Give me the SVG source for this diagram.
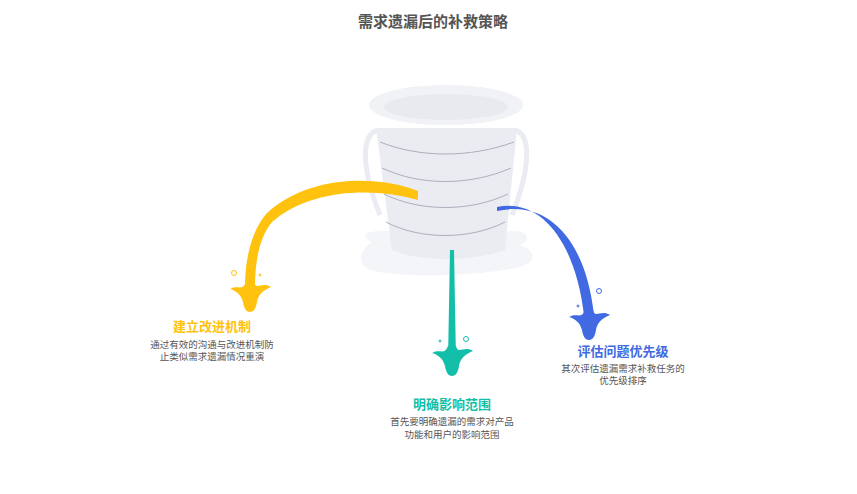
<svg xmlns="http://www.w3.org/2000/svg" width="857" height="494" viewBox="0 0 857 494">
<style>
.t{font-family:"Liberation Sans","Noto Sans CJK SC",sans-serif;text-anchor:middle}
.h{font-size:13px;font-weight:bold}
.d{font-size:9.5px;fill:#555}
.band{fill:none;stroke:#aab0bc;stroke-width:1}
.bub{fill:none;stroke-width:1}
</style>
<defs>
<path id="spl" d="M-20,-4 C-12,-9 -8,-1 -4,-11 L4,-11 C6,-2 12,-12 21,-6 C13,-3 8,2 7,9 C6,15 4,19 0,19 C-4,19 -6,15 -7,9 C-9,2 -13,-2 -20,-4Z"/>
</defs>
<rect width="857" height="494" fill="#fff"/>
<text class="t" x="433" y="27" font-size="15" font-weight="bold" fill="#555">需求遗漏后的补救策略</text>
<g id="bucket">
<path d="M372,242 C355,235 372,228 395,232 L505,232 C525,228 535,238 520,245 C540,252 535,265 515,268 C480,275 420,278 378,272 C355,268 358,252 372,242Z" fill="#f4f5f9"/>
<path d="M376,128 L517,128 L505,250 C470,262 420,262 392,250Z" fill="#eaecf2"/>
<path d="M378,130 C360,135 362,170 380,215" fill="none" stroke="#eaecf2" stroke-width="5"/>
<path d="M515,130 C532,135 530,170 512,215" fill="none" stroke="#eaecf2" stroke-width="5"/>
<path class="band" d="M380,142 C420,158 470,158 514,142"/>
<path class="band" d="M382,168 C420,186 470,186 511,168"/>
<path class="band" d="M384,194 C420,212 470,212 508,194"/>
<path class="band" d="M386,222 C420,240 470,240 505,222"/>
<ellipse cx="446" cy="105" rx="77" ry="20" fill="#f1f2f6"/>
<ellipse cx="446" cy="107" rx="62" ry="13" fill="#e8eaf0"/>
</g>
<g id="connectors">
<path d="M418,191 C380,176 310,173 266,214 C251,232 245,260 245,287 L255,287 C255,262 259,238 272,222 C312,187 378,188 418,200 Z" fill="#FFC20E"/>
<path d="M497,207 C540,198 575,240 584,315 L594,315 C585,235 545,200 497,211Z" fill="#4169E1"/>
<path d="M450,250 L454,250 L456,360 L448,360Z" fill="#14BFAA"/>
</g>
<g id="n1">
<use href="#spl" x="250" y="293" fill="#FFC20E"/>
<circle class="bub" cx="234" cy="273" r="2.5" stroke="#FFC20E"/>
<circle class="bub" cx="260" cy="275" r="1" stroke="#FFC20E"/>
<text class="t h" x="212" y="331" fill="#FFC20E">建立改进机制</text>
<text class="t d" x="212" y="348">通过有效的沟通与改进机制防</text>
<text class="t d" x="212" y="360">止类似需求遗漏情况重演</text>
</g>
<g id="n2">
<use href="#spl" x="452" y="357" fill="#14BFAA"/>
<circle class="bub" cx="466" cy="339" r="2.5" stroke="#14BFAA"/>
<circle class="bub" cx="440" cy="341" r="1" stroke="#14BFAA"/>
<text class="t h" x="452" y="409" fill="#14BFAA">明确影响范围</text>
<text class="t d" x="452" y="425">首先要明确遗漏的需求对产品</text>
<text class="t d" x="452" y="438">功能和用户的影响范围</text>
</g>
<g id="n3">
<use href="#spl" x="589" y="321" fill="#4169E1"/>
<circle class="bub" cx="599" cy="291" r="2.5" stroke="#4169E1"/>
<circle class="bub" cx="578" cy="306" r="1" stroke="#4169E1"/>
<text class="t h" x="623" y="356" fill="#4169E1">评估问题优先级</text>
<text class="t d" x="623" y="372">其次评估遗漏需求补救任务的</text>
<text class="t d" x="623" y="384">优先级排序</text>
</g>
</svg>
